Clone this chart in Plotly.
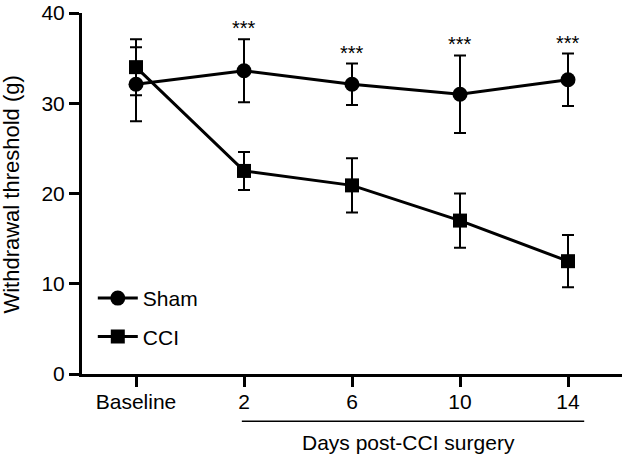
import plotly.graph_objects as go

categories = ["Baseline", "2", "6", "10", "14"]
sham_mean = [32.1, 33.6, 32.1, 31.0, 32.6]
sham_err = [4.1, 3.5, 2.3, 4.3, 2.9]
cci_mean = [34.0, 22.5, 20.9, 17.0, 12.5]
cci_err = [3.1, 2.1, 3.0, 3.0, 2.9]
sig_labels = ["", "***", "***", "***", "***"]
y_ticks = [0, 10, 20, 30, 40]

FONT = "Liberation Sans, Arial, sans-serif"
xpos = list(range(len(categories)))

fig = go.Figure()
fig.add_trace(go.Scatter(
    x=xpos, y=cci_mean, name="CCI", mode="lines+markers",
    line=dict(color="black", width=3),
    marker=dict(symbol="square", size=14, color="black"),
    error_y=dict(type="data", array=cci_err, color="black", thickness=2, width=6),
    legendgroup="b", legendrank=2,
))
fig.add_trace(go.Scatter(
    x=xpos, y=sham_mean, name="Sham", mode="lines+markers",
    line=dict(color="black", width=3),
    marker=dict(symbol="circle", size=15, color="black"),
    error_y=dict(type="data", array=sham_err, color="black", thickness=2, width=6),
    legendgroup="a", legendrank=1,
))

for i, lab in enumerate(sig_labels):
    if lab:
        fig.add_annotation(x=xpos[i], y=sham_mean[i] + sham_err[i], text=lab,
                           showarrow=False, yanchor="bottom", yshift=-2,
                           font=dict(size=20, color="black", family=FONT))

# y-axis title as rotated text
fig.add_annotation(xref="paper", yref="paper", x=-0.1296, y=0.497,
                   text="Withdrawal threshold (g)", textangle=-90, showarrow=False,
                   xanchor="center", yanchor="middle",
                   font=dict(size=22, color="black", family=FONT))

# bracket line under x ticks for days
fig.add_shape(type="line", xref="x", yref="paper", x0=0.98, x1=4.15, y0=-0.131, y1=-0.131,
              line=dict(color="black", width=1.5))
fig.add_annotation(xref="x", yref="paper", x=2.52, y=-0.19, text="Days post-CCI surgery",
                   showarrow=False, yanchor="middle",
                   font=dict(size=21, color="black", family=FONT))

fig.update_layout(
    width=633, height=454,
    margin=dict(l=82, r=11, t=13, b=80, autoexpand=False),
    paper_bgcolor="white", plot_bgcolor="white",
    font=dict(family=FONT, size=21, color="black"),
    showlegend=True,
    legend=dict(x=0.02, y=0.266, xanchor="left", yanchor="top",
                traceorder="grouped", tracegroupgap=8,
                font=dict(size=21, family=FONT, color="black"),
                bgcolor="rgba(0,0,0,0)", itemwidth=40),
)
fig.update_xaxes(
    range=[-0.5, 4.5], tickmode="array", tickvals=xpos, ticktext=categories,
    showline=True, linecolor="black", linewidth=3, automargin=False,
    ticks="outside", ticklen=10, tickwidth=3, tickcolor="black",
    showgrid=False, zeroline=False, tickfont=dict(size=21, family=FONT),
    ticklabeloverflow="allow", ticklabelstandoff=-3,
)
fig.update_yaxes(
    range=[0, 40], tickmode="array", tickvals=y_ticks,
    showline=True, linecolor="black", linewidth=3, automargin=False,
    ticks="outside", ticklen=10, tickwidth=3, tickcolor="black",
    showgrid=False, zeroline=False, tickfont=dict(size=21, family=FONT),
    ticklabeloverflow="allow",
)

fig.write_html("out.html", config={"displayModeBar": False},
               post_script="document.body.style.margin='0';")
